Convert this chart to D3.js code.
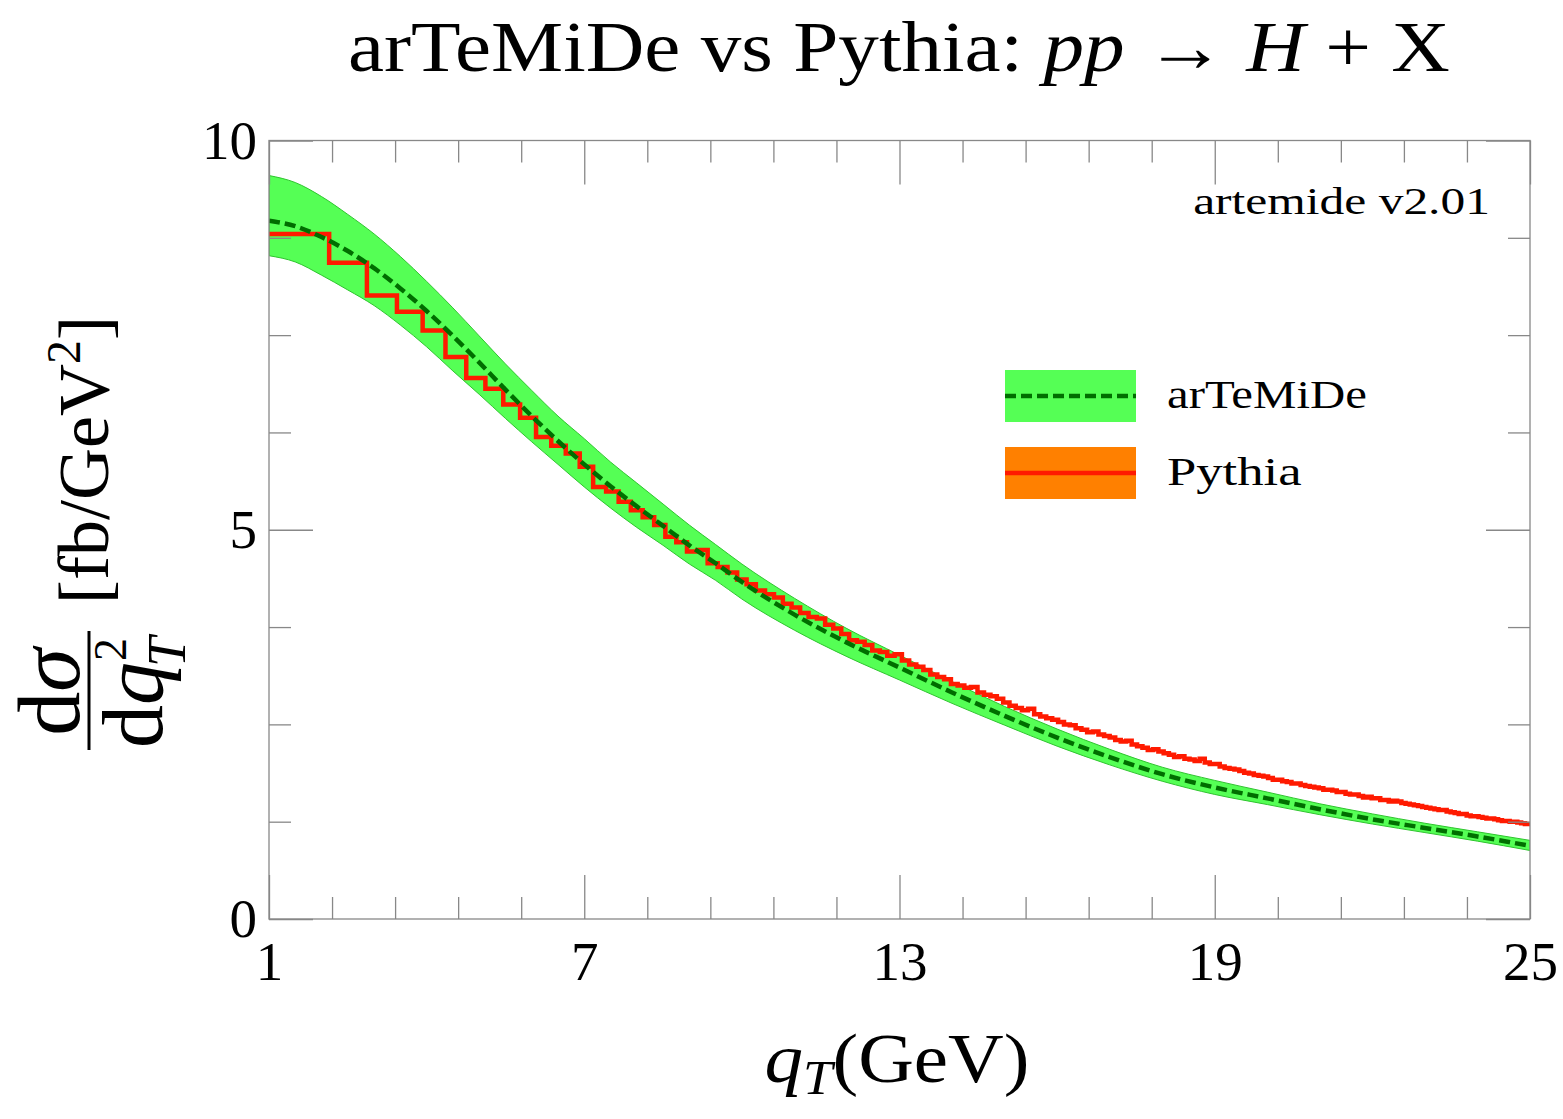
<!DOCTYPE html>
<html>
<head>
<meta charset="utf-8">
<script src="https://cdn.jsdelivr.net/npm/d3@7"></script>
<style>
  body { margin: 0; background: #fff; }
  text { font-family: "Liberation Serif", serif; fill: #000; }
</style>
</head>
<body>
<svg id="chart"></svg>
<script>
var svgWidth = 1563;
var svgHeight = 1119;

// plot frame in pixels
var frame = { left: 269, right: 1530, top: 140.5, bottom: 919 };

// arTeMiDe prediction (central line and uncertainty band)
var qGrid = [1, 1.5, 2, 2.5, 3, 3.5, 4, 4.5, 5, 5.5, 6, 6.5, 7, 7.5, 8, 8.5, 9, 9.5, 10,
  11, 12, 13, 14, 15, 16, 17, 18, 19, 20, 21, 22, 23, 24, 25];
var artemideCentral = [8.97, 8.90, 8.76, 8.58, 8.36, 8.10, 7.81, 7.49, 7.15, 6.80, 6.46, 6.14, 5.84, 5.56, 5.30, 5.05, 4.80, 4.57, 4.33,
  3.91, 3.55, 3.23, 2.91, 2.61, 2.33, 2.08, 1.86, 1.69, 1.55, 1.41, 1.28, 1.17, 1.06, 0.94];
var artemideUpper = [9.55, 9.46, 9.28, 9.05, 8.80, 8.51, 8.19, 7.85, 7.49, 7.13, 6.79, 6.46, 6.17, 5.87, 5.60, 5.33, 5.06, 4.81, 4.56,
  4.12, 3.73, 3.39, 3.05, 2.73, 2.44, 2.18, 1.95, 1.78, 1.63, 1.48, 1.35, 1.23, 1.12, 1.01];
var artemideLower = [8.52, 8.44, 8.27, 8.08, 7.88, 7.63, 7.35, 7.04, 6.74, 6.43, 6.13, 5.84, 5.55, 5.28, 5.03, 4.80, 4.56, 4.35, 4.11,
  3.71, 3.37, 3.07, 2.77, 2.49, 2.22, 1.98, 1.77, 1.60, 1.47, 1.34, 1.22, 1.11, 1.00, 0.88];

// Pythia histogram: bins equally spaced in qT^2 starting at qT = 1
var pythiaBinWidthQ2 = 3.6;
var pythiaValues = [
  8.80, 8.43, 8.01, 7.80, 7.56, 7.22, 6.95, 6.81, 6.61, 6.44,
  6.19, 6.08, 5.98, 5.81, 5.55, 5.49, 5.36, 5.25, 5.16, 5.06,
  4.91, 4.84, 4.72, 4.74, 4.57, 4.52,
  4.45, 4.36, 4.30, 4.22,
  4.17, 4.13, 4.05, 4.00, 3.93,
  3.88, 3.86, 3.78, 3.73, 3.66,
  3.58, 3.56, 3.52, 3.45, 3.43,
  3.38, 3.40, 3.32, 3.27, 3.24,
  3.20, 3.14, 3.11, 3.08, 3.02,
  3.00, 2.97, 2.98, 2.91, 2.88,
  2.86, 2.83, 2.78, 2.74, 2.71,
  2.68, 2.70, 2.63, 2.60, 2.58,
  2.56, 2.53, 2.50, 2.49, 2.45,
  2.43, 2.40, 2.41, 2.37, 2.35,
  2.33, 2.30, 2.28, 2.29, 2.24,
  2.22, 2.20, 2.17, 2.18, 2.15,
  2.13, 2.11, 2.08, 2.09, 2.06,
  2.05, 2.03, 2.06, 2.01, 1.99,
  1.99, 1.96, 1.94, 1.93, 1.92,
  1.90, 1.88, 1.87, 1.85, 1.84,
  1.83, 1.81, 1.79, 1.79, 1.77,
  1.76, 1.74, 1.74, 1.72, 1.71,
  1.70, 1.69, 1.68, 1.66, 1.66,
  1.65, 1.63, 1.63, 1.61, 1.60,
  1.60, 1.58, 1.56, 1.57, 1.55,
  1.55, 1.53, 1.53, 1.51, 1.52,
  1.51, 1.49, 1.48, 1.47, 1.46,
  1.45, 1.44, 1.43, 1.42, 1.41,
  1.40, 1.40, 1.38, 1.37, 1.36,
  1.35, 1.35, 1.33, 1.32, 1.32,
  1.31, 1.30, 1.29, 1.29, 1.28,
  1.27, 1.26, 1.26, 1.25, 1.25,
  1.24, 1.23, 1.22, 1.22
];

// ticks
var xMajorTicks = [1, 7, 13, 19, 25];
var xMinorTicks = [2.2, 3.4, 4.6, 5.8, 8.2, 9.4, 10.6, 11.8, 14.2, 15.4, 16.6, 17.8, 20.2, 21.4, 22.6, 23.8];
var yMajorTicks = [0, 5, 10];
var yMinorTicks = [1.25, 2.5, 3.75, 6.25, 7.5, 8.75];

var legendLabels = ["arTeMiDe", "Pythia"];

var svg = d3.select("#chart")
  .attr("width", svgWidth)
  .attr("height", svgHeight);

var x = d3.scaleLinear().domain([1, 25]).range([frame.left, frame.right]);
var y = d3.scaleLinear().domain([0, 10]).range([frame.bottom, frame.top]);
var plotW = frame.right - frame.left;
var plotH = frame.bottom - frame.top;

svg.append("defs").append("clipPath")
  .attr("id", "plotClip")
  .append("rect")
  .attr("x", frame.left).attr("y", frame.top)
  .attr("width", plotW).attr("height", plotH);

var plot = svg.append("g").attr("clip-path", "url(#plotClip)");

// band
var band = qGrid.map(function(q, i) {
  return { q: q, lo: artemideLower[i], hi: artemideUpper[i], c: artemideCentral[i] };
});

plot.append("path")
  .datum(band)
  .attr("fill", "#55ff55")
  .attr("stroke", "#2fc42f")
  .attr("stroke-width", 1)
  .attr("d", d3.area()
    .x(d => x(d.q))
    .y0(d => y(d.lo))
    .y1(d => y(d.hi))
    .curve(d3.curveMonotoneX));

// pythia steps
var pythiaPts = pythiaValues.map(function(v, k) {
  return { q: Math.sqrt(1 + pythiaBinWidthQ2 * k), v: v };
});
pythiaPts.push({
  q: Math.sqrt(1 + pythiaBinWidthQ2 * pythiaValues.length),
  v: pythiaValues[pythiaValues.length - 1]
});

plot.append("path")
  .datum(pythiaPts)
  .attr("fill", "none")
  .attr("stroke", "#ff1a00")
  .attr("stroke-width", 4.5)
  .attr("stroke-linejoin", "miter")
  .attr("d", d3.line()
    .x(d => x(d.q))
    .y(d => y(d.v))
    .curve(d3.curveStepAfter));

// central dashed
plot.append("path")
  .datum(band)
  .attr("fill", "none")
  .attr("stroke", "#006e00")
  .attr("stroke-width", 4.5)
  .attr("stroke-dasharray", "11,5")
  .attr("d", d3.line()
    .x(d => x(d.q))
    .y(d => y(d.c))
    .curve(d3.curveMonotoneX));

// Axes (ticks inside, mirrored)
var tickColor = "#888";
function styleAxis(g) {
  g.select(".domain").remove();
  g.selectAll("line").attr("stroke", tickColor).attr("stroke-width", 1.3);
}

svg.append("g")
  .attr("transform", `translate(0, ${frame.bottom})`)
  .call(d3.axisBottom(x).tickValues(xMajorTicks).tickSizeInner(-44).tickSizeOuter(0).tickPadding(22))
  .call(styleAxis)
  .call(g => g.selectAll("text").attr("font-size", 55).attr("font-family", "Liberation Serif").attr("fill", "#000"));
svg.append("g")
  .attr("transform", `translate(0, ${frame.bottom})`)
  .call(d3.axisBottom(x).tickValues(xMinorTicks).tickSizeInner(-22).tickSizeOuter(0).tickFormat(""))
  .call(styleAxis);
svg.append("g")
  .attr("transform", `translate(0, ${frame.top})`)
  .call(d3.axisTop(x).tickValues(xMajorTicks).tickSizeInner(-44).tickSizeOuter(0).tickFormat(""))
  .call(styleAxis);
svg.append("g")
  .attr("transform", `translate(0, ${frame.top})`)
  .call(d3.axisTop(x).tickValues(xMinorTicks).tickSizeInner(-22).tickSizeOuter(0).tickFormat(""))
  .call(styleAxis);

svg.append("g")
  .attr("transform", `translate(${frame.left}, 0)`)
  .call(d3.axisLeft(y).tickValues(yMajorTicks).tickSizeInner(-44).tickSizeOuter(0).tickPadding(12))
  .call(styleAxis)
  .call(g => g.selectAll("text").attr("font-size", 55).attr("font-family", "Liberation Serif").attr("fill", "#000"));
svg.append("g")
  .attr("transform", `translate(${frame.left}, 0)`)
  .call(d3.axisLeft(y).tickValues(yMinorTicks).tickSizeInner(-22).tickSizeOuter(0).tickFormat(""))
  .call(styleAxis);
svg.append("g")
  .attr("transform", `translate(${frame.right}, 0)`)
  .call(d3.axisRight(y).tickValues(yMajorTicks).tickSizeInner(-44).tickSizeOuter(0).tickFormat(""))
  .call(styleAxis);
svg.append("g")
  .attr("transform", `translate(${frame.right}, 0)`)
  .call(d3.axisRight(y).tickValues(yMinorTicks).tickSizeInner(-22).tickSizeOuter(0).tickFormat(""))
  .call(styleAxis);

// frame
svg.append("rect")
  .attr("x", frame.left).attr("y", frame.top)
  .attr("width", plotW).attr("height", plotH)
  .attr("fill", "none")
  .attr("stroke", tickColor)
  .attr("stroke-width", 1.3);

// stretch text horizontally to a target width (Computer Modern is wider than Times)
function fitWidth(sel, target, anchorX) {
  var w = sel.node().getBBox().width;
  var s = target / w;
  sel.attr("transform", `translate(${anchorX * (1 - s)}, 0) scale(${s}, 1)`);
}

// Title
var title = svg.append("text")
  .attr("x", 899).attr("y", 71)
  .attr("text-anchor", "middle")
  .attr("font-size", 72);
title.append("tspan").text("arTeMiDe vs Pythia: ");
title.append("tspan").attr("font-style", "italic").text("pp");
title.append("tspan").text(" \u2192 ");
title.append("tspan").attr("font-style", "italic").text("H");
title.append("tspan").text(" + X");
fitWidth(title, 1102, 899);

// version tag
var tag = svg.append("text")
  .attr("x", 1490).attr("y", 214)
  .attr("text-anchor", "end")
  .attr("font-size", 37)
  .text("artemide v2.01");
fitWidth(tag, 297, 1490);

// Legend
var legend = svg.append("g");
var legendRows = [
  { label: legendLabels[0], fill: "#55ff55", stroke: "#006e00", dash: "11,5", y: 370, w: 200 },
  { label: legendLabels[1], fill: "#ff8000", stroke: "#ff1a00", dash: null, y: 447, w: 135 }
];
legendRows.forEach(function(r) {
  legend.append("rect")
    .attr("x", 1005).attr("y", r.y)
    .attr("width", 131).attr("height", 52)
    .attr("fill", r.fill);
  legend.append("line")
    .attr("x1", 1005).attr("x2", 1136)
    .attr("y1", r.y + 26).attr("y2", r.y + 26)
    .attr("stroke", r.stroke)
    .attr("stroke-width", 4.5)
    .attr("stroke-dasharray", r.dash);
  var t = legend.append("text")
    .attr("x", 1167).attr("y", r.y + 38)
    .attr("font-size", 40)
    .text(r.label);
  fitWidth(t, r.w, 1167);
});

// x axis title
var xTitle = svg.append("text")
  .attr("x", 897).attr("y", 1082)
  .attr("text-anchor", "middle")
  .attr("font-size", 70);
xTitle.append("tspan").attr("font-style", "italic").text("q");
xTitle.append("tspan").attr("font-style", "italic").attr("font-size", 48).attr("dy", 12).text("T");
xTitle.append("tspan").attr("dy", -12).text("(GeV)");
fitWidth(xTitle, 265, 897);

// y axis title (rotated: local x = -screen y, local y = screen x)
var yTitle = svg.append("g").attr("transform", "rotate(-90)");
var num = yTitle.append("text")
  .attr("x", -692).attr("y", 79)
  .attr("text-anchor", "middle")
  .attr("font-size", 88);
num.append("tspan").text("d");
num.append("tspan").attr("font-style", "italic").text("\u03c3");
yTitle.append("line")
  .attr("x1", -750).attr("x2", -631)
  .attr("y1", 89).attr("y2", 89)
  .attr("stroke", "#000").attr("stroke-width", 3);
var den = yTitle.append("text")
  .attr("x", -748).attr("y", 162)
  .attr("font-size", 86);
den.append("tspan").text("d");
den.append("tspan").attr("font-style", "italic").text("q");
yTitle.append("text")
  .attr("x", -661).attr("y", 126)
  .attr("font-size", 46)
  .text("2");
yTitle.append("text")
  .attr("x", -667).attr("y", 185)
  .attr("font-size", 54)
  .attr("font-style", "italic")
  .text("T");
var unit = yTitle.append("text")
  .attr("x", -604).attr("y", 108)
  .attr("font-size", 72);
unit.append("tspan").text("[fb/GeV");
unit.append("tspan").attr("font-size", 48).attr("dy", -28).text("2");
unit.append("tspan").attr("dy", 28).text("]");
</script>
</body>
</html>
